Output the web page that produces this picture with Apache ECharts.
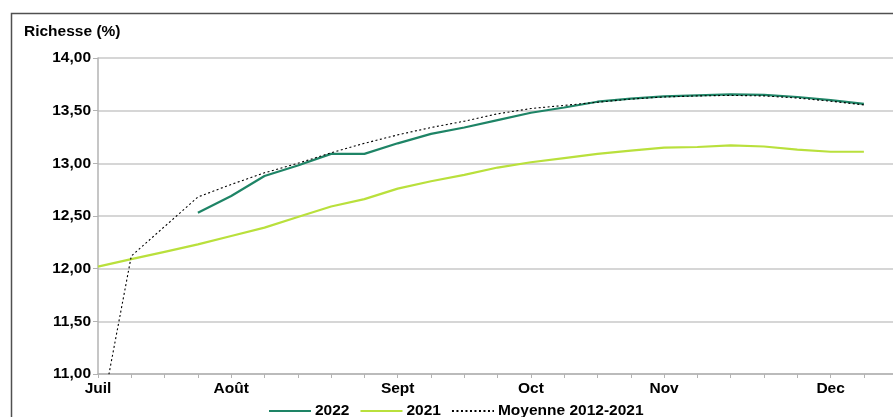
<!DOCTYPE html>
<html>
<head>
<meta charset="utf-8">
<script src="https://cdn.jsdelivr.net/npm/echarts@6/dist/echarts.min.js"></script>
<style>
html,body{margin:0;padding:0;background:#fff;}
#chart{width:893px;height:417px;}
</style>
</head>
<body>
<div id="chart"></div>
<script>
// Weekly categories (Juillet -> Décembre), month labels at first week of month
const categories = ["Juil","","","","Août","","","","","Sept","","","","Oct","","","","Nov","","","","","Dec","","",""];
const yTicks = [11, 11.5, 12, 12.5, 13, 13.5, 14];
const s2022 = [null,null,null,12.53,12.69,12.88,12.98,13.09,13.09,13.19,13.28,13.34,13.41,13.48,13.53,13.585,13.615,13.635,13.645,13.655,13.65,13.63,13.60,13.565];
const s2021 = [12.02,12.09,12.16,12.23,12.31,12.39,12.49,12.59,12.66,12.76,12.83,12.89,12.96,13.01,13.05,13.09,13.12,13.15,13.155,13.17,13.16,13.13,13.11,13.11];
const sMoy = [10.45,12.12,12.40,12.68,12.80,12.91,13.00,13.10,13.19,13.27,13.34,13.40,13.47,13.52,13.55,13.58,13.61,13.63,13.64,13.645,13.64,13.62,13.59,13.555];

const FONT = "Liberation Sans";
const chart = echarts.init(document.getElementById('chart'), null, {renderer:'canvas'});
chart.setOption({
  animation: false,
  backgroundColor: '#fff',
  textStyle: {fontFamily: FONT},
  graphic: [
    {type:'rect', shape:{x:11.5, y:13.5, width:1000, height:1000}, style:{fill:'none', stroke:'#505050', lineWidth:1.5}, silent:true},
    {type:'text', left:24, top:24, style:{text:'Richesse (%)', font:'bold 15.5px "Liberation Sans"', fill:'#000'}}
  ],
  grid: {left:98, top:58, width:832.5, height:316, containLabel:false, outerBoundsMode:'none'},
  legend: {
    bottom: -7, left: 263,
    itemWidth: 42, itemHeight: 10, itemGap: 10,
    itemStyle: {color:'rgba(0,0,0,0)', borderWidth:0, opacity:0},
    textStyle: {fontFamily: FONT, fontWeight:'bold', fontSize:15.5, color:'#000', padding:[0,0,0,-1]},
    data: ['2022','2021','Moyenne 2012-2021']
  },
  xAxis: {
    type:'category', data: categories, boundaryGap:false,
    axisLine:{lineStyle:{color:'#b3b3b3', width:1.5}},
    axisTick:{show:true, interval:0, length:4, lineStyle:{color:'#b3b3b3'}},
    axisLabel:{interval:0, color:'#000', fontWeight:'bold', fontSize:15.5, fontFamily:FONT, margin:7},
    splitLine:{show:false}
  },
  yAxis: {
    type:'value', min: yTicks[0], max: yTicks[yTicks.length-1], interval: 0.5,
    axisLine:{show:true, lineStyle:{color:'#b3b3b3', width:1.5}},
    axisTick:{show:true, length:5, lineStyle:{color:'#b3b3b3'}},
    axisLabel:{color:'#000', fontWeight:'bold', fontSize:15.5, fontFamily:FONT, margin:7,
      formatter: v => v.toFixed(2).replace('.', ',')},
    splitLine:{lineStyle:{color:'#c8c8c8', width:1.5}}
  },
  series: [
    {name:'2022', type:'line', data:s2022, symbol:'none', connectNulls:false,
      lineStyle:{color:'#1e8466', width:2.2}, itemStyle:{color:'#1e8466'}, z:3},
    {name:'2021', type:'line', data:s2021, symbol:'none',
      lineStyle:{color:'#b9e03c', width:2.2}, itemStyle:{color:'#b9e03c'}, z:2},
    {name:'Moyenne 2012-2021', type:'line', data:sMoy, symbol:'none',
      lineStyle:{color:'#000', width:1.1, type:[2,2.5]}, itemStyle:{color:'#000'}, z:4}
  ]
});
</script>
</body>
</html>
